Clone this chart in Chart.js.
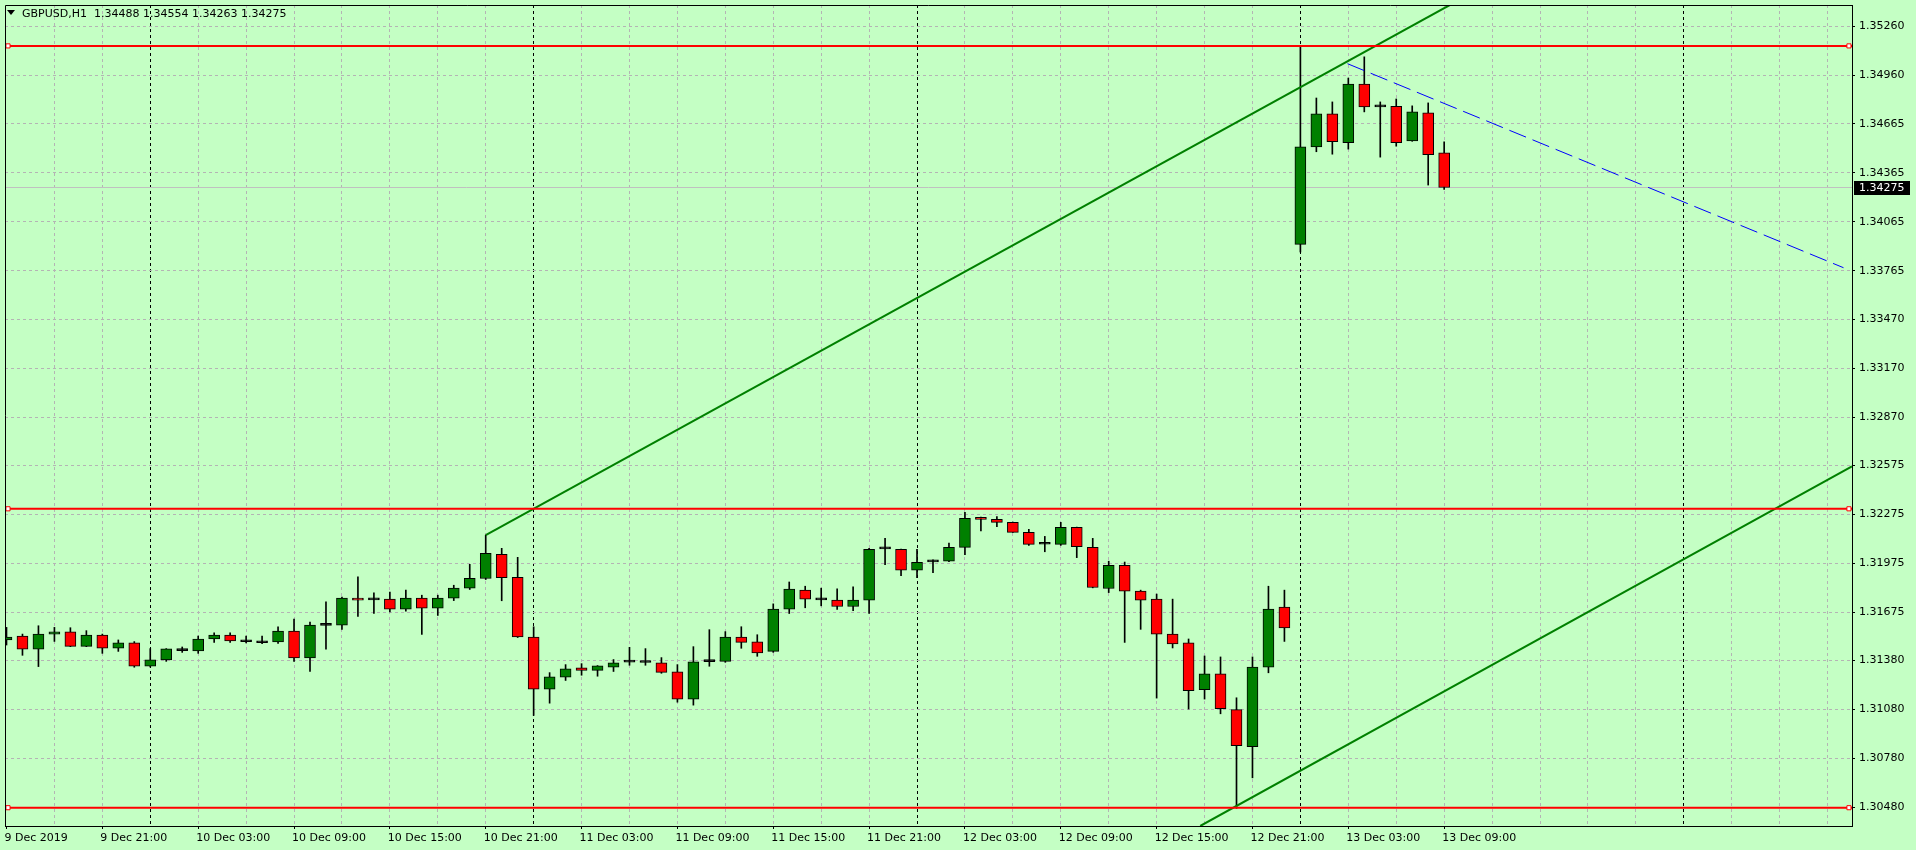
<!DOCTYPE html>
<html><head><meta charset="utf-8">
<script src="https://cdn.jsdelivr.net/npm/chart.js@4.4.1/dist/chart.umd.min.js"></script>
<style>html,body{margin:0;padding:0;background:#c4ffc4;overflow:hidden}#wrap{width:1916px;height:850px;position:relative}canvas{display:block}</style>
</head><body><div id="wrap"><canvas id="c" width="1916" height="850"></canvas></div>
<script>
// ---------- data ----------
const symbolTitle = "GBPUSD,H1";
const barOpen = [1.31505,1.31529,1.31448,1.31541,1.31554,1.31466,1.31535,1.31454,1.31487,1.31344,
1.31383,1.31440,1.31438,1.31511,1.31535,1.31497,1.31491,1.31493,1.31560,1.31395,
1.31594,1.31596,1.31761,1.31752,1.31755,1.31694,1.31761,1.31700,1.31761,1.31822,
1.31881,1.32029,1.31889,1.31523,1.31204,1.31277,1.31334,1.31319,1.31338,1.31369,
1.31370,1.31365,1.31310,1.31143,1.31372,1.31374,1.31523,1.31493,1.31435,1.31694,
1.31810,1.31753,1.31749,1.31710,1.31749,1.32063,1.32060,1.31932,1.31983,1.31987,
1.32072,1.32255,1.32243,1.32225,1.32164,1.32091,1.32090,1.32194,1.32072,1.31820,
1.31962,1.31804,1.31755,1.31541,1.31487,1.31200,1.31297,1.31078,1.30852,1.31339,
1.31706,1.33927,1.34524,1.34726,1.34549,1.34909,1.34769,1.34772,1.34561,1.34732,
1.34488];
const barHigh = [1.31582,1.31541,1.31592,1.31582,1.31580,1.31562,1.31541,1.31505,1.31495,1.31452,
1.31452,1.31462,1.31529,1.31548,1.31548,1.31529,1.31529,1.31586,1.31633,1.31615,
1.31739,1.31767,1.31891,1.31793,1.31798,1.31810,1.31779,1.31779,1.31840,1.31968,
1.32147,1.32066,1.32011,1.31586,1.31305,1.31354,1.31360,1.31348,1.31385,1.31460,
1.31452,1.31397,1.31354,1.31464,1.31568,1.31556,1.31586,1.31537,1.31726,1.31860,
1.31834,1.31822,1.31818,1.31830,1.32066,1.32127,1.32062,1.32060,1.31995,1.32098,
1.32286,1.32257,1.32261,1.32226,1.32182,1.32139,1.32225,1.32196,1.32127,1.31987,
1.31982,1.31810,1.31786,1.31755,1.31511,1.31407,1.31401,1.31151,1.31401,1.31834,
1.31810,1.35140,1.34823,1.34799,1.34945,1.35075,1.34799,1.34817,1.34775,1.34793,
1.34554];
const barLow = [1.31474,1.31411,1.31342,1.31496,1.31464,1.31464,1.31423,1.31435,1.31338,1.31339,
1.31374,1.31429,1.31423,1.31490,1.31490,1.31487,1.31482,1.31484,1.31374,1.31313,
1.31448,1.31570,1.31649,1.31667,1.31676,1.31682,1.31539,1.31655,1.31746,1.31814,
1.31875,1.31745,1.31520,1.31043,1.31118,1.31257,1.31289,1.31283,1.31312,1.31350,
1.31350,1.31301,1.31124,1.31106,1.31344,1.31368,1.31454,1.31405,1.31429,1.31667,
1.31702,1.31714,1.31692,1.31684,1.31667,1.31966,1.31899,1.31887,1.31917,1.31985,
1.32027,1.32173,1.32198,1.32163,1.32084,1.32045,1.32084,1.32009,1.31824,1.31795,
1.31490,1.31570,1.31149,1.31456,1.31082,1.31143,1.31053,1.30474,1.30661,1.31304,
1.31496,1.33880,1.34494,1.34479,1.34510,1.34738,1.34461,1.34528,1.34558,1.34290,
1.34263];
const barClose = [1.31523,1.31448,1.31541,1.31554,1.31466,1.31535,1.31454,1.31487,1.31344,1.31383,
1.31450,1.31442,1.31511,1.31535,1.31499,1.31494,1.31488,1.31560,1.31395,1.31596,
1.31597,1.31761,1.31749,1.31750,1.31694,1.31761,1.31700,1.31761,1.31822,1.31883,
1.32036,1.31887,1.31523,1.31204,1.31279,1.31328,1.31319,1.31346,1.31365,1.31372,
1.31367,1.31307,1.31143,1.31371,1.31375,1.31523,1.31490,1.31426,1.31694,1.31816,
1.31755,1.31750,1.31710,1.31749,1.32060,1.32066,1.31932,1.31981,1.31986,1.32072,
1.32249,1.32243,1.32225,1.32164,1.32090,1.32094,1.32194,1.32076,1.31826,1.31962,
1.31804,1.31749,1.31541,1.31480,1.31194,1.31297,1.31084,1.30858,1.31339,1.31694,
1.31578,1.34524,1.34726,1.34555,1.34909,1.34768,1.34771,1.34549,1.34738,1.34476,
1.34275];
// one label every 6 bars, starting at the first bar
const timeLabels = ["9 Dec 2019","9 Dec 21:00","10 Dec 03:00","10 Dec 09:00","10 Dec 15:00","10 Dec 21:00",
"11 Dec 03:00","11 Dec 09:00","11 Dec 15:00","11 Dec 21:00","12 Dec 03:00","12 Dec 09:00",
"12 Dec 15:00","12 Dec 21:00","13 Dec 03:00","13 Dec 09:00"];
const priceTicks = [1.35260,1.34960,1.34665,1.34365,1.34065,1.33765,1.33470,1.33170,1.32870,
1.32575,1.32275,1.31975,1.31675,1.31380,1.31080,1.30780,1.30480];
const hLevels = [1.35142, 1.32308, 1.30478];
const channelUpper = [{x:30, y:1.32147},{x:90.35, y:1.35392}];
const channelLower = [{x:74.73, y:1.30366},{x:115.53, y:1.32568}];
const blueTrend = [{x:83.95, y:1.35033},{x:115.0, y:1.33784}];
const currentPrice = 1.34275;
const daySeparators = [9,33,57,81,105];   // bar index of each 00:00

// ---------- layout / style ----------
const BG = '#c4ffc4', GRID = '#b4b4b4', FONT = '"DejaVu Sans"';
const X_MIN = -0.09375, X_MAX = 115.53125, Y_MIN = 1.30366, Y_MAX = 1.353924;
const gridBars = []; for (let v = 0; v <= 114; v += 3) gridBars.push(v);
const isLabelBar = v => v % 6 === 0 && v / 6 < timeLabels.length;

const bodies = barOpen.map((o,i)=>({x:i, y:[o, barClose[i]]}));
const wicks = barOpen.map((o,i)=>({x:i, y:[barLow[i], barHigh[i]]}));
const bodyColor = i => { const d = barClose[i]-barOpen[i]; return Math.abs(d) <= 0.00004 ? '#000000' : (d > 0 ? '#008000' : '#ff0000'); };

const edgeLine = v => [{x:-2, y:v},{x:118, y:v}];
const datasets = [];
hLevels.forEach(v => datasets.push({type:'line', data:edgeLine(v), borderColor:'#ff0000', borderWidth:2, pointRadius:0, order:0}));
datasets.push({type:'line', data: hLevels.flatMap(v=>[{x:0.094,y:v},{x:115.34,y:v}]), showLine:false,
  pointStyle:'rect', pointRadius:2.9, pointBorderWidth:1, pointBackgroundColor:'#ffffff', pointBorderColor:'#ff0000', order:-1});
datasets.push({type:'line', data:channelUpper, borderColor:'#008000', borderWidth:2, pointRadius:0, order:0});
datasets.push({type:'line', data:channelLower, borderColor:'#008000', borderWidth:2, pointRadius:0, order:0});
datasets.push({type:'line', data:blueTrend, borderColor:'#0000ff', borderWidth:1, borderDash:[18,7], pointRadius:0, order:0});
datasets.push({type:'bar', data:bodies, grouped:false, barThickness:11, minBarLength:2, borderSkipped:false,
  borderWidth:1, borderColor:'#000000', backgroundColor: c => bodyColor(c.dataIndex), order:1});
datasets.push({type:'bar', data:wicks, grouped:false, barThickness:1, borderWidth:0, backgroundColor:'#000000', order:2});
datasets.push({type:'line', data:edgeLine(currentPrice), borderColor:'#c0c0c0', borderWidth:1, pointRadius:0, order:3});

const zeroPad = s => { s.paddingTop = 0; s.paddingBottom = 0; s.paddingLeft = 0; s.paddingRight = 0; };

const framePlugin = {
  id:'frame',
  beforeDraw(chart){ const c=chart.ctx; c.save(); c.fillStyle=BG; c.fillRect(0,0,chart.width,chart.height); c.restore(); },
  afterDraw(chart){
    const {ctx, chartArea:a} = chart; const y = chart.scales.y;
    ctx.save();
    ctx.strokeStyle='#000'; ctx.lineWidth=1; ctx.setLineDash([]);
    ctx.beginPath(); ctx.moveTo(a.left+0.5, a.bottom); ctx.lineTo(a.left+0.5, a.top+0.5); ctx.lineTo(a.right, a.top+0.5); ctx.stroke();
    // current price marker on the price axis
    const py = y.getPixelForValue(currentPrice);
    ctx.fillStyle='#000'; ctx.fillRect(a.right+2, Math.round(py)-7, 56, 14);
    ctx.fillStyle='#fff'; ctx.font='11px '+FONT; ctx.textBaseline='middle'; ctx.textAlign='left';
    ctx.fillText(currentPrice.toFixed(5), a.right+7, py+0.5);
    // title
    ctx.fillStyle='#000';
    ctx.beginPath(); ctx.moveTo(7,10); ctx.lineTo(15,10); ctx.lineTo(11,15); ctx.closePath(); ctx.fill();
    ctx.textBaseline='alphabetic';
    ctx.fillText(symbolTitle, 22, 17);
    const n = barOpen.length-1;
    ctx.fillText([barOpen[n],barHigh[n],barLow[n],barClose[n]].map(v=>v.toFixed(5)).join(' '), 94, 17);
    ctx.restore();
  }
};

new Chart(document.getElementById('c'), {
  type:'bar',
  data:{datasets},
  options:{
    responsive:false, devicePixelRatio:1, animation:false,
    layout:{padding:{left:2, top:2, right:0, bottom:0}},
    plugins:{legend:{display:false}, tooltip:{enabled:false}, title:{display:false}},
    scales:{
      x:{type:'linear', position:'bottom', min:X_MIN, max:X_MAX, offset:false,
        afterBuildTicks: s => { s.ticks = gridBars.map(v=>({value:v})); },
        afterFit: s => { s.height = 24; zeroPad(s); },
        grid:{offset:false, lineWidth:1, drawTicks:true, tickLength:3,
          color: c => { const v = c.tick ? c.tick.value : -1; if (v === 0) return 'rgba(0,0,0,0)'; return daySeparators.includes(v) ? '#000000' : GRID; },
          tickColor: c => (c.tick && isLabelBar(c.tick.value)) ? '#000000' : 'rgba(0,0,0,0)'},
        border:{display:true, color:'#000', width:1, dash:[3,3]},
        ticks:{autoSkip:false, maxRotation:0, minRotation:0, align:'start', padding:3, labelOffset:-2, color:'#000',
          font:{family:'DejaVu Sans', size:11},
          callback: v => isLabelBar(v) ? timeLabels[v/6] : ''}
      },
      y:{type:'linear', position:'right', min:Y_MIN, max:Y_MAX,
        afterBuildTicks: s => { s.ticks = priceTicks.map(v=>({value:v})); },
        afterFit: s => { s.width = 64; zeroPad(s); },
        grid:{color:GRID, lineWidth:1, drawTicks:true, tickLength:3, tickColor:'#000'},
        border:{display:true, color:'#000', width:1, dash:[3,3]},
        ticks:{autoSkip:false, padding:4, color:'#000', font:{family:'DejaVu Sans', size:11},
          callback: v => Number(v).toFixed(5)}
      }
    }
  },
  plugins:[framePlugin]
});
</script></body></html>
